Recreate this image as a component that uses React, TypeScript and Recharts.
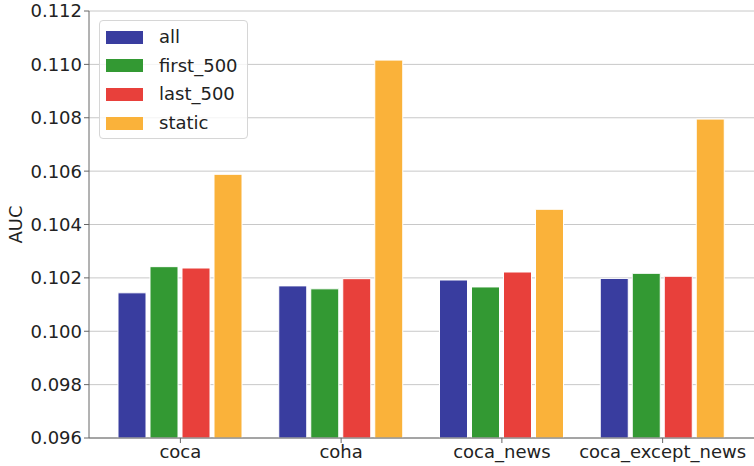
import { BarChart, Bar, XAxis, YAxis, CartesianGrid } from 'recharts';

const categories = ['coca', 'coha', 'coca_news', 'coca_except_news'];
const allValues = [0.10144, 0.1017, 0.10192, 0.10198];
const first500 = [0.10242, 0.10159, 0.10166, 0.10217];
const last500 = [0.10237, 0.10197, 0.10222, 0.10206];
const staticValues = [0.10588, 0.11016, 0.10457, 0.10795];
const yTicks = [0.096, 0.098, 0.1, 0.102, 0.104, 0.106, 0.108, 0.11, 0.112];

const SERIES = [
  { key: 'all', color: '#393d9f' },
  { key: 'first_500', color: '#339933' },
  { key: 'last_500', color: '#e8403b' },
  { key: 'static', color: '#fab23a' },
];

const data = categories.map((name, i) => ({
  name,
  all: allValues[i],
  first_500: first500[i],
  last_500: last500[i],
  static: staticValues[i],
}));

const FONT = '"DejaVu Sans", sans-serif';
const FS = 18;

const LegendBox = () => (
  <div
    style={{
      position: 'absolute',
      left: 99,
      top: 20,
      width: 147,
      height: 117,
      border: '1px solid #d6d6d6',
      borderRadius: 4,
      background: 'rgba(255,255,255,0.8)',
      fontFamily: FONT,
      fontSize: FS,
      color: '#222',
    }}
  >
    {SERIES.map((s, i) => (
      <div
        key={s.key}
        style={{ position: 'absolute', left: 6, top: 9 + i * 28.7, height: 14, display: 'flex', alignItems: 'center' }}
      >
        <div style={{ width: 37, height: 13, background: s.color }} />
        <span style={{ marginLeft: 16, lineHeight: '14px' }}>{s.key}</span>
      </div>
    ))}
  </div>
);

const AucLabel = (props: any) => {
  const { viewBox } = props;
  const cy = viewBox.y + viewBox.height / 2;
  return (
    <text
      x={15}
      y={cy}
      transform={`rotate(-90, 15, ${cy})`}
      textAnchor="middle"
      dominantBaseline="central"
      fill="#222"
      fontSize={FS}
      fontFamily={FONT}
    >
      AUC
    </text>
  );
};

const App = () => {
  return (
    <div style={{ position: 'absolute', left: 0, top: 0, width: 754, height: 466, background: '#fff' }}>
      <BarChart
        width={754}
        height={466}
        data={data}
        margin={{ top: 11, right: 0, bottom: 0, left: 0 }}
        barSize={28}
        barGap={4}
      >
        <CartesianGrid vertical={false} stroke="#c8c8c8" strokeWidth={1} />
        <XAxis
          dataKey="name"
          height={28}
          padding={{ left: 11, right: 11 }}
          axisLine={{ stroke: '#666' }}
          tickLine={{ stroke: '#666' }}
          tickSize={5}
          tick={{ fill: '#222', fontSize: FS, fontFamily: FONT }}
          interval={0}
        />
        <YAxis
          width={89}
          domain={[0.096, 0.112]}
          ticks={yTicks}
          allowDataOverflow
          tickFormatter={(v: number) => v.toFixed(3)}
          axisLine={{ stroke: '#666' }}
          tickLine={{ stroke: '#666' }}
          tickSize={5}
          tick={{ fill: '#222', fontSize: FS, fontFamily: FONT }}
          label={<AucLabel />}
        />
        {SERIES.map((s) => (
          <Bar
            key={s.key}
            dataKey={s.key}
            fill={s.color}
            stroke="#ffffff"
            strokeWidth={1}
            isAnimationActive={false}
          />
        ))}
      </BarChart>
      <LegendBox />
    </div>
  );
};

export default App;
